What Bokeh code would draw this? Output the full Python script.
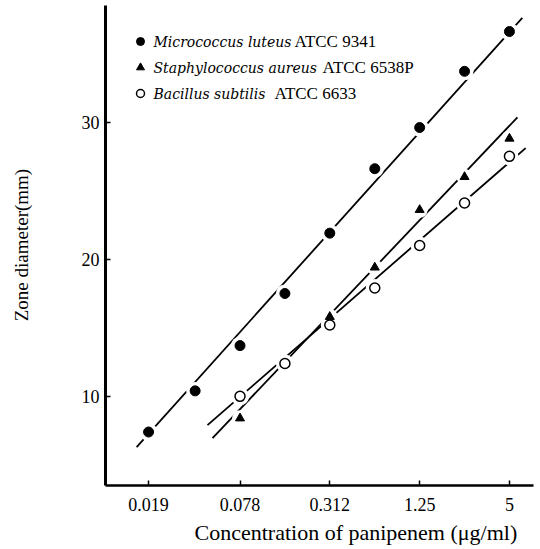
import numpy as np
from bokeh.plotting import figure
from bokeh.layouts import row
from bokeh.models import Range1d, FixedTicker, Label, Title
from bokeh.core.properties import value
from bokeh.embed import file_html
from bokeh.resources import INLINE

# ---------------- data ----------------
conc = [0.019, 0.039, 0.078, 0.156, 0.312, 0.625, 1.25, 2.5, 5]
micrococcus = [7.4, 10.4, 13.7, 17.5, 21.9, 26.6, 29.6, 33.7, 36.6]

conc_b = [0.078, 0.156, 0.312, 0.625, 1.25, 2.5, 5]
staphylococcus = [8.4, 12.4, 15.8, 19.4, 23.6, 26.0, 28.8]
bacillus = [10.0, 12.4, 15.2, 17.9, 21.0, 24.1, 27.5]

# regression lines as drawn (end points)
fit_m_x = [0.0158, 6.1]
fit_m_y = [6.3, 37.6]
fit_s_x = [0.051, 5.66]
fit_s_y = [6.95, 30.35]
fit_b_x = [0.0472, 6.42]
fit_b_y = [7.9, 28.1]

tick_vals = [0.019, 0.078, 0.312, 1.25, 5]
tick_labels = ["0.019", "0.078", "0.312", "1.25", "5"]
y_ticks = [10, 20, 30]

legend_species = ["Micrococcus luteus", "Staphylococcus aureus", "Bacillus subtilis"]
legend_strain = ["ATCC 9341", "ATCC 6538P", "ATCC 6633"]

x_title = "Concentration of panipenem (μg/ml)"
y_title = "Zone diameter(mm)"

FONT = "Liberation Serif"
IFONT = "DejaVu Serif"

# ---------------- layout ----------------
W, H = 540, 549
LW = 60                       # narrow strip that carries the y title
L, R, T, B = 105, 7, 5, 64    # frame borders measured on the whole canvas
x0, x1 = 0.00977, 7.25
y0, y1 = 3.5, 38.5

# ---- strip with the y-axis title ----
q = figure(width=LW, height=H, x_range=Range1d(0, LW), y_range=Range1d(H, 0),
           output_backend="svg", toolbar_location=None,
           min_border_left=0, min_border_right=0, min_border_top=0, min_border_bottom=0)
q.axis.visible = False
q.grid.visible = False
q.outline_line_color = None
q.text(x=[21], y=[274], text=[y_title], angle=np.pi / 2,
       text_font=value(FONT), text_font_size="19px", text_align="center",
       text_baseline="middle", text_color="black")

# ---- main plot ----
p = figure(width=W - LW, height=H, x_axis_type="log",
           x_range=Range1d(x0, x1), y_range=Range1d(y0, y1),
           output_backend="svg", toolbar_location=None,
           min_border_left=L - LW, min_border_right=R,
           min_border_top=T, min_border_bottom=B)
p.outline_line_color = None
p.grid.visible = False
p.background_fill_color = "white"
p.border_fill_color = "white"

# helpers: canvas px -> data coords, used only to place the legend
fw, fh = W - L - R, H - T - B
def sx(px):
    f = (px - L) / fw
    return 10 ** (np.log10(x0) + f * (np.log10(x1) - np.log10(x0)))
def sy(py):
    f = (H - B - py) / fh
    return y0 + f * (y1 - y0)

# axes
xa = p.xaxis[0]
xa.ticker = FixedTicker(ticks=tick_vals)
xa.major_label_overrides = {v: s for v, s in zip(tick_vals, tick_labels)}
xa.minor_tick_line_color = None
xa.major_tick_in = 5
xa.major_tick_out = 0
xa.major_tick_line_width = 1.5
xa.axis_line_width = 2.5
xa.major_label_standoff = 12
xa.major_label_text_font = FONT
xa.major_label_text_font_size = "18px"
xa.major_label_text_color = "black"

ya = p.yaxis[0]
ya.ticker = FixedTicker(ticks=y_ticks)
ya.minor_tick_line_color = None
ya.major_tick_in = 5
ya.major_tick_out = 0
ya.major_tick_line_width = 1.5
ya.axis_line_width = 3
ya.major_label_standoff = 6
ya.major_label_text_font = FONT
ya.major_label_text_font_size = "18px"
ya.major_label_text_color = "black"

# x-axis title (shifted off-centre like the reference)
p.add_layout(Title(text=x_title, align="left", offset=89, standoff=8,
                   text_font=FONT, text_font_size="22px",
                   text_font_style="normal", text_color="black"), "below")

# regression lines
for fx, fy in [(fit_m_x, fit_m_y), (fit_s_x, fit_s_y), (fit_b_x, fit_b_y)]:
    p.line(fx, fy, line_color="black", line_width=1.8)

# white halos that break the lines around each point
p.scatter(conc, micrococcus, size=18, fill_color="white", line_color=None)
p.scatter(conc_b, staphylococcus, size=16, fill_color="white", line_color=None)
p.scatter(conc_b, bacillus, size=18, fill_color="white", line_color=None)

# markers
p.scatter(conc, micrococcus, marker="circle", size=10, fill_color="black", line_color="black")
p.scatter(conc_b, staphylococcus, marker="triangle", size=9, fill_color="black", line_color="black")
p.scatter(conc_b, bacillus, marker="circle", size=10, fill_color="white", line_color="black", line_width=1.5)

# legend
rows_y = [41, 67, 93]
strain_x = [294, 322, 274]
mk = [dict(marker="circle", fill_color="black", line_color="black"),
      dict(marker="triangle", fill_color="black", line_color="black"),
      dict(marker="circle", fill_color="white", line_color="black", line_width=1.5)]
for i in range(3):
    p.scatter([sx(140)], [sy(rows_y[i])], size=8, **mk[i])
    p.add_layout(Label(x=sx(153), y=sy(rows_y[i]), text=legend_species[i],
                       text_font=IFONT, text_font_size="14px", text_font_style="italic",
                       text_baseline="middle", text_align="left", text_color="black"))
    p.add_layout(Label(x=sx(strain_x[i]), y=sy(rows_y[i]), text=legend_strain[i],
                       text_font=FONT, text_font_size="17px", text_font_style="normal",
                       text_baseline="middle", text_align="left", text_color="black"))

layout = row(q, p, spacing=0)
open("out.html", "w").write(file_html(layout, INLINE))
